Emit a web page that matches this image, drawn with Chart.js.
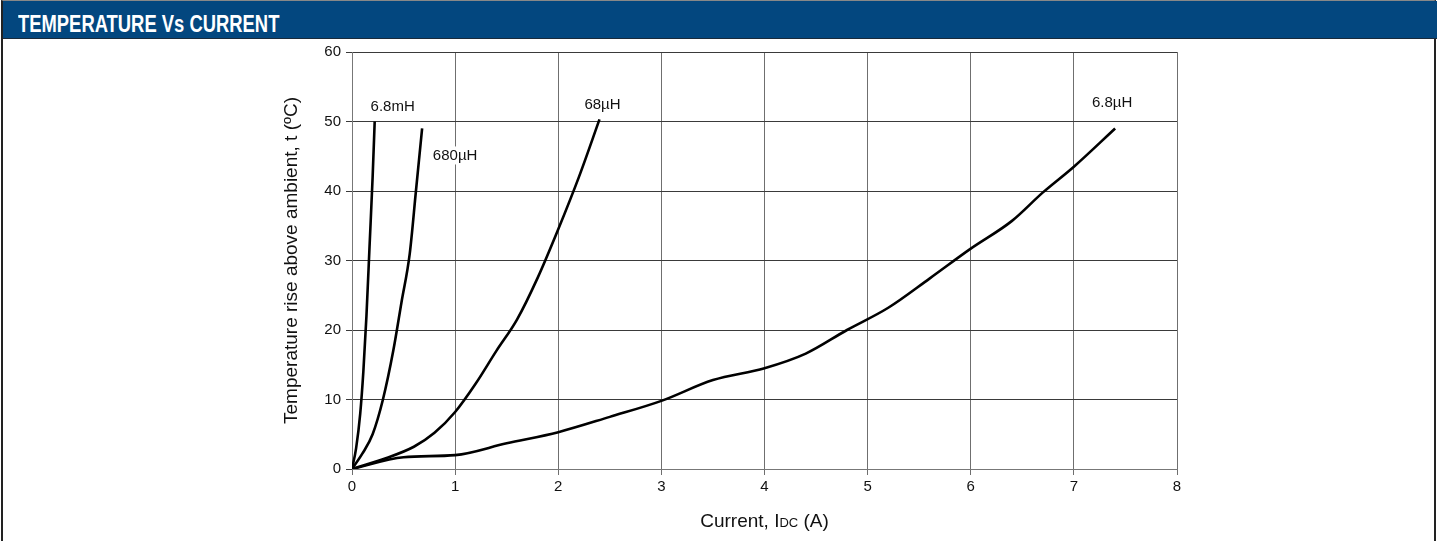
<!DOCTYPE html>
<html>
<head>
<meta charset="utf-8">
<script src="https://cdn.jsdelivr.net/npm/chart.js@4"></script>
<style>
    html, body { margin: 0; padding: 0; background: #fff; }
    #wrap { position: relative; width: 1440px; height: 541px; overflow: hidden; }
    #frame { position: absolute; left: 1px; top: 0; width: 1435px; height: 541px;
             border-left: 2px solid #222; border-right: 2px solid #222; border-top: 1px solid #888; box-sizing: border-box; }
    #header { position: absolute; left: 3px; top: 1px; width: 1434px; height: 38px; background: #03477f;
              border-bottom: 1px solid #1a2a3a; box-sizing: border-box; }
    #header span { position: absolute; left: 15px; top: 10px; color: #fff; font-family: "Liberation Sans", Arial, sans-serif;
                   font-weight: bold; font-size: 23px; transform: scaleX(0.8); transform-origin: 0 0; white-space: nowrap; }
    #chartBox { position: absolute; left: 0; top: 0; width: 1440px; height: 541px; }
</style>
</head>
<body>
<div id="wrap">
    <div id="chartBox"><canvas id="tempChart"></canvas></div>
    <div id="frame"></div>
    <div id="header"><span>TEMPERATURE Vs CURRENT</span></div>
</div>
<script>
// series data (current in A, temperature rise in °C)
var seriesNames = ['6.8mH', '680µH', '68µH', '6.8µH'];

var x68mH = [0, 0.04, 0.08, 0.11, 0.14, 0.17, 0.2, 0.22];
var y68mH = [0, 3, 8, 14, 22, 32, 42, 50];

var x680uH = [0, 0.1, 0.2, 0.3, 0.4, 0.48, 0.56, 0.62, 0.68];
var y680uH = [0, 2.2, 5, 10, 17, 24, 31, 40, 49];

var x68uH = [0, 0.3, 0.6, 0.8, 1.0, 1.2, 1.4, 1.6, 1.8, 2.0, 2.2, 2.4];
var y68uH = [0, 1.4, 3.2, 5.2, 8.2, 12.3, 17, 21.5, 27.5, 34.5, 42, 50.3];

var x68uH2 = [0, 0.5, 1.0, 1.5, 2.0, 2.5, 3.0, 3.5, 4.0, 4.4, 4.8, 5.2, 5.6, 6.0, 6.4, 6.7, 7.0, 7.4];
var y68uH2 = [0, 1.7, 2.0, 3.7, 5.3, 7.5, 9.8, 12.8, 14.5, 16.6, 20, 23.2, 27.4, 31.7, 35.7, 39.8, 43.5, 49];

var xTicks = [0, 1, 2, 3, 4, 5, 6, 7, 8];
var yTicks = [0, 10, 20, 30, 40, 50, 60];

function toPoints(xs, ys) {
    return xs.map(function (v, i) { return { x: v, y: ys[i] }; });
}

var seriesX = [x68mH, x680uH, x68uH, x68uH2];
var seriesY = [y68mH, y680uH, y68uH, y68uH2];

// where each label sits relative to the end of its curve (pixels)
var labelOffsets = [[18, -15], [33, 27], [3, -15], [-3, -26]];

var FONT = '"Liberation Sans", Arial, sans-serif';

var curveLabels = {
    id: 'curveLabels',
    afterDatasetsDraw: function (chart) {
        var ctx = chart.ctx;
        var xs = chart.scales.x, ys = chart.scales.y;
        ctx.save();
        ctx.font = '15px ' + FONT;
        ctx.textAlign = 'center';
        ctx.textBaseline = 'middle';
        seriesNames.forEach(function (name, i) {
            var px = seriesX[i], py = seriesY[i];
            var ex = xs.getPixelForValue(px[px.length - 1]);
            var ey = ys.getPixelForValue(py[py.length - 1]);
            var cx = ex + labelOffsets[i][0], cy = ey + labelOffsets[i][1];
            var w = ctx.measureText(name).width;
            ctx.fillStyle = '#fff';
            ctx.fillRect(cx - w / 2 - 2, cy - 9, w + 4, 18);
            ctx.fillStyle = '#111';
            ctx.fillText(name, cx, cy);
        });

        // axis titles
        ctx.fillStyle = '#111';
        ctx.font = '19px ' + FONT;
        ctx.save();
        ctx.translate(297, (chart.chartArea.top + chart.chartArea.bottom) / 2);
        ctx.rotate(-Math.PI / 2);
        ctx.textAlign = 'center';
        ctx.textBaseline = 'alphabetic';
        ctx.fillText('Temperature rise above ambient, t (ºC)', 0, 0);
        ctx.restore();

        var parts = [['Current, I', '19px'], ['DC', '13px'], [' (A)', '19px']];
        var total = 0;
        parts.forEach(function (p) {
            ctx.font = p[1] + ' ' + FONT;
            total += ctx.measureText(p[0]).width;
        });
        var startX = (chart.chartArea.left + chart.chartArea.right) / 2 - total / 2;
        ctx.textAlign = 'left';
        ctx.textBaseline = 'alphabetic';
        parts.forEach(function (p) {
            ctx.font = p[1] + ' ' + FONT;
            ctx.fillText(p[0], startX, 527);
            startX += ctx.measureText(p[0]).width;
        });
        ctx.restore();
    }
};

document.addEventListener('DOMContentLoaded', function () {
    var ctx = document.getElementById('tempChart');
    var datasets = seriesNames.map(function (name, i) {
        return {
            label: name,
            data: toPoints(seriesX[i], seriesY[i]),
            borderColor: '#000',
            borderWidth: 2.6,
            pointRadius: 0,
            fill: false,
            tension: 0.4,
            cubicInterpolationMode: 'monotone'
        };
    });

    new Chart(ctx, {
        type: 'line',
        data: { datasets: datasets },
        options: {
            responsive: true,
            maintainAspectRatio: false,
            animation: false,
            layout: { padding: { top: 52, right: 263, bottom: 0, left: 0 } },
            plugins: {
                legend: { display: false },
                tooltip: { enabled: false }
            },
            scales: {
                x: {
                    type: 'linear',
                    min: 0,
                    max: 8,
                    afterBuildTicks: function (scale) {
                        scale.ticks = xTicks.map(function (v) { return { value: v }; });
                    },
                    afterFit: function (scale) { scale.height = 72; },
                    grid: { color: '#6f6f6f', lineWidth: 1, tickLength: 6, drawTicks: true },
                    border: { color: '#777', width: 1 },
                    ticks: {
                        color: '#111',
                        padding: 3,
                        maxRotation: 0,
                        font: { family: FONT, size: 15 }
                    }
                },
                y: {
                    type: 'linear',
                    min: 0,
                    max: 60,
                    afterBuildTicks: function (scale) {
                        scale.ticks = yTicks.map(function (v) { return { value: v }; });
                    },
                    afterFit: function (scale) { scale.width = 352; },
                    grid: { color: '#3a3a3a', lineWidth: 1, tickLength: 6, drawTicks: true },
                    border: { color: '#777', width: 1 },
                    ticks: {
                        color: '#111',
                        padding: 5,
                        font: { family: FONT, size: 15 }
                    }
                }
            }
        },
        plugins: [curveLabels]
    });
});
</script>
</body>
</html>
